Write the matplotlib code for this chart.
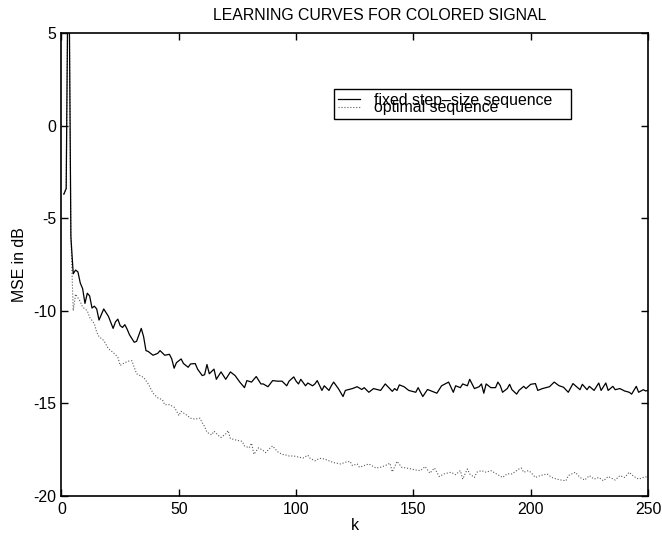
import matplotlib
matplotlib.use("Agg")
import matplotlib.pyplot as plt

plt.rcParams['font.family'] = ['Liberation Sans', 'DejaVu Sans']
plt.rcParams['axes.unicode_minus'] = False

# valores (k, MSE em dB)
k_fixed = [1, 2, 3, 4, 5, 6, 7, 8, 9, 10, 11, 12, 13, 14, 15, 16, 17, 18, 19, 20,
           22, 23, 24, 25, 26, 27, 28, 29, 31, 32, 33, 34, 35, 36, 37, 39, 41, 42, 44, 46,
           47, 48, 49, 51, 52, 54, 55, 57, 58, 60, 61, 62, 63, 65, 66, 68, 70, 72, 74, 76,
           78, 79, 81, 83, 85, 86, 88, 90, 92, 94, 96, 97, 99, 100, 101, 102, 104, 105, 107, 108,
           109, 111, 112, 114, 115, 116, 118, 120, 121, 124, 126, 128, 129, 131, 133, 136, 138, 141, 142, 143,
           144, 146, 148, 151, 152, 154, 156, 157, 160, 162, 165, 167, 168, 170, 171, 173, 174, 176, 178, 179,
           180, 181, 183, 185, 186, 187, 188, 190, 191, 192, 194, 195, 197, 198, 200, 202, 203, 205, 208, 210,
           212, 214, 216, 218, 219, 221, 222, 224, 225, 227, 229, 230, 232, 233, 235, 236, 238, 240, 242, 243,
           245, 246, 248, 249, 250]
mse_fixed = [-3.7, -3.4, 12.0, -6.0, -8.0, -7.8, -7.9, -8.5, -8.8, -9.6, -9.05, -9.2, -9.85, -9.75, -9.9, -10.5, -10.2, -9.9, -10.1, -10.3,
             -10.95, -10.6, -10.45, -10.8, -10.9, -10.75, -11.0, -11.3, -11.7, -11.65, -11.3, -10.95, -11.4, -12.15, -12.2, -12.4, -12.3, -12.15, -12.4, -12.35,
             -12.6, -13.1, -12.8, -12.6, -12.85, -13.05, -12.87, -12.85, -13.15, -13.5, -13.45, -12.9, -13.4, -13.15, -13.7, -13.3, -13.7, -13.3, -13.5, -13.85,
             -14.15, -13.77, -13.85, -13.55, -13.95, -13.95, -14.1, -13.77, -13.8, -13.8, -14.05, -13.8, -13.57, -13.8, -13.95, -13.7, -14.05, -13.9, -14.05, -13.95,
             -13.77, -14.3, -14.05, -14.3, -14.05, -13.85, -14.2, -14.63, -14.3, -14.2, -14.1, -14.25, -14.15, -14.4, -14.2, -14.3, -13.95, -14.35, -14.2, -14.3,
             -14.0, -14.1, -14.3, -14.4, -14.15, -14.63, -14.25, -14.3, -14.45, -14.05, -13.85, -14.4, -14.05, -14.15, -13.95, -14.05, -13.7, -14.2, -14.1, -13.95,
             -14.45, -13.95, -14.15, -14.15, -13.85, -14.04, -14.4, -14.2, -13.97, -14.26, -14.5, -14.3, -14.08, -14.2, -13.97, -13.93, -14.3, -14.2, -14.1, -13.85,
             -14.04, -14.13, -14.4, -13.93, -14.04, -14.26, -13.97, -14.26, -14.08, -14.3, -13.9, -14.3, -13.9, -14.3, -14.08, -14.26, -14.2, -14.33, -14.4, -14.5,
             -14.08, -14.4, -14.26, -14.33, -14.3]

k_opt = [1, 2, 3, 4, 5, 6, 7, 8, 9, 11, 12, 14, 15, 16, 18, 20, 22, 24, 25, 27,
         29, 30, 32, 35, 37, 39, 41, 43, 44, 46, 48, 49, 50, 51, 53, 54, 55, 57, 59, 60,
         61, 62, 64, 65, 67, 68, 70, 71, 72, 75, 77, 78, 80, 81, 82, 84, 86, 87, 89, 90,
         92, 94, 96, 97, 99, 101, 103, 105, 106, 108, 110, 112, 114, 116, 119, 121, 123, 124, 126, 127,
         129, 131, 134, 136, 138, 140, 141, 143, 145, 147, 149, 151, 153, 155, 157, 159, 161, 163, 166, 168,
         170, 171, 173, 174, 176, 177, 179, 181, 183, 186, 188, 190, 192, 195, 196, 197, 199, 200, 202, 204,
         207, 209, 211, 213, 215, 216, 219, 221, 223, 225, 227, 229, 231, 233, 236, 238, 240, 242, 244, 246,
         248, 250]
mse_opt = [-3.7, -3.4, 12.0, -6.0, -10.0, -9.1, -9.3, -9.5, -9.8, -10.0, -10.35, -10.7, -11.15, -11.4, -11.6, -12.05, -12.25, -12.5, -12.95, -12.8,
           -12.7, -12.7, -13.4, -13.6, -13.95, -14.45, -14.7, -14.8, -15.07, -15.07, -15.2, -15.4, -15.66, -15.43, -15.6, -15.7, -15.8, -15.85, -15.8, -16.05,
           -16.25, -16.56, -16.7, -16.5, -16.75, -16.84, -16.65, -16.47, -16.9, -17.0, -17.05, -17.3, -17.4, -17.15, -17.75, -17.4, -17.55, -17.66, -17.4, -17.3,
           -17.6, -17.75, -17.8, -17.84, -17.84, -17.9, -17.95, -17.8, -17.97, -18.1, -17.97, -18.0, -18.1, -18.2, -18.27, -18.18, -18.13, -18.36, -18.27, -18.45,
           -18.36, -18.27, -18.49, -18.45, -18.36, -18.23, -18.7, -18.13, -18.45, -18.49, -18.54, -18.6, -18.63, -18.41, -18.77, -18.49, -18.95, -18.81, -18.72, -18.85,
           -18.63, -19.09, -18.54, -18.81, -19.0, -18.72, -18.63, -18.72, -18.63, -18.85, -19.0, -18.8, -18.81, -18.54, -18.49, -18.72, -18.63, -18.72, -19.0, -18.9,
           -18.81, -19.0, -19.09, -19.14, -19.18, -18.9, -18.72, -19.0, -19.14, -18.9, -19.09, -19.0, -19.18, -18.95, -19.14, -18.9, -19.0, -18.72, -18.95, -19.09,
           -19.0, -18.95]

x_ticks = [0, 50, 100, 150, 200, 250]
y_ticks = [-20, -15, -10, -5, 0, 5]

fig = plt.figure(figsize=(6.62, 5.37), dpi=100)
ax = fig.add_axes([0.0929, 0.0764, 0.886, 0.8621])

ax.plot(k_opt, mse_opt, color='0.35', linestyle=':', linewidth=0.8, label='optimal sequence')
ax.plot(k_fixed, mse_fixed, color='black', linestyle='-', linewidth=0.9, label='fixed step\u2013size sequence')

ax.set_xlim(0, 250)
ax.set_ylim(-20, 5)
ax.set_xticks(x_ticks)
ax.set_yticks(y_ticks)
ax.tick_params(direction='in', top=True, right=True, length=5, width=1, labelsize=11.4, pad=4)
for s in ax.spines.values():
    s.set_linewidth(1.2)

ax.set_xlabel('k', fontsize=11.4, labelpad=1)
ax.set_ylabel('MSE in dB', fontsize=11.4, labelpad=4)
fig.text(380 / 662, 1 - 20 / 537, 'LEARNING CURVES FOR COLORED SIGNAL', fontsize=11.4,
         ha='center', va='baseline')

# legenda com as duas linhas quase coladas, como no original
h, l = ax.get_legend_handles_labels()
leg = ax.legend(h[::-1], l[::-1], loc='upper left', bbox_to_anchor=(0.4646, 0.879, 0.404, 0.0),
                mode='expand', fontsize=11.4, frameon=True, fancybox=False, edgecolor='black',
                framealpha=1, borderpad=0.25, labelspacing=-0.48, handlelength=1.4,
                handletextpad=0.9, borderaxespad=0)
leg.get_frame().set_linewidth(1.0)

fig.savefig('out.png', dpi=100)
